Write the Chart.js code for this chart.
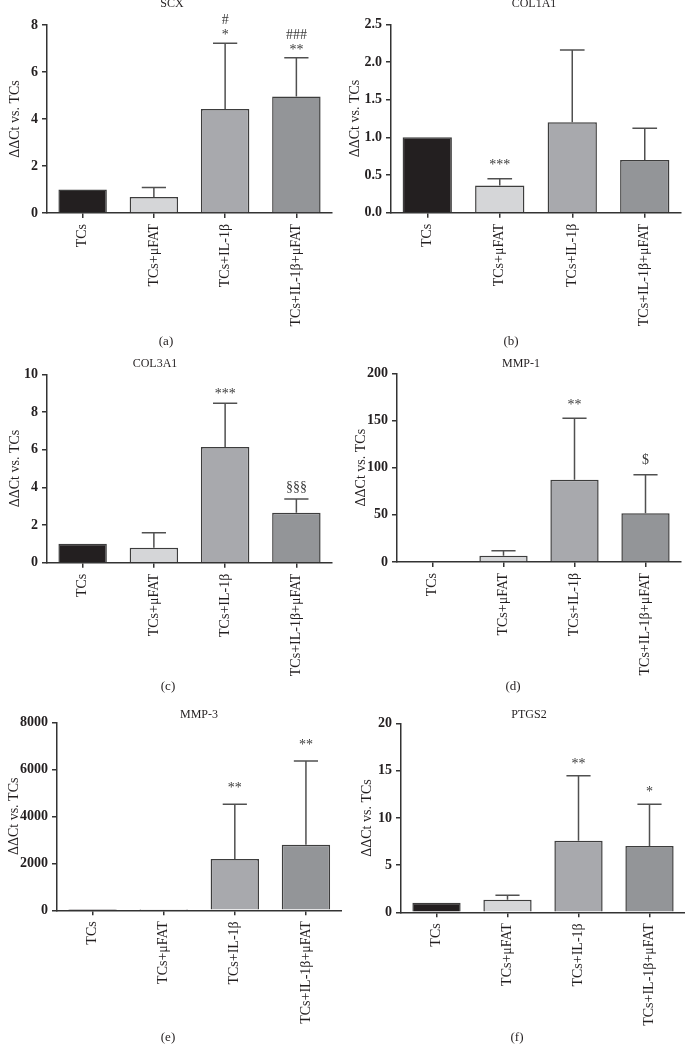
<!DOCTYPE html>
<html>
<head>
<meta charset="utf-8">
<script src="https://cdn.jsdelivr.net/npm/chart.js@4.4.1/dist/chart.umd.min.js"></script>
<style>
  body { margin: 0; background: #fff; }
  #wrap { position: relative; width: 685px; height: 1056px; overflow: hidden; }
  .panel { position: absolute; }
</style>
</head>
<body>
<div id="wrap"></div>
<script>
// groups on the x axis (same for every panel)
const groups = ['TCs', 'TCs+μFAT', 'TCs+IL-1β', 'TCs+IL-1β+μFAT'];

// mean values and upper SD
const scxMean = [1, 0.68, 4.43, 4.96];
const scxSd = [0, 0.41, 2.79, 1.65];
const col1Mean = [1, 0.36, 1.20, 0.70];
const col1Sd = [0, 0.09, 0.96, 0.42];
const col3Mean = [1, 0.80, 6.14, 2.65];
const col3Sd = [0, 0.79, 2.32, 0.73];
const mmp1Mean = [1, 6.7, 87.3, 51.6];
const mmp1Sd = [0, 5.3, 65, 41];
const mmp3Mean = [1, 1.5, 2184, 2794];
const mmp3Sd = [0, 0, 2327, 3561];
const ptgsMean = [1, 1.34, 7.6, 7.03];
const ptgsSd = [0, 0.46, 6.89, 4.42];

// y axis ticks
const scxTicks = [0, 2, 4, 6, 8];
const col1Ticks = [0, 0.5, 1, 1.5, 2, 2.5];
const col3Ticks = [0, 2, 4, 6, 8, 10];
const mmp1Ticks = [0, 50, 100, 150, 200];
const mmp3Ticks = [0, 2000, 4000, 6000, 8000];
const ptgsTicks = [0, 5, 10, 15, 20];

// significance marks above each bar (listed bottom to top)
const scxMarks = [[], [], ['*', '#'], ['**', '###']];
const col1Marks = [[], ['***'], [], []];
const col3Marks = [[], [], ['***'], ['§§§']];
const mmp1Marks = [[], [], ['**'], ['$']];
const mmp3Marks = [[], [], ['**'], ['**']];
const ptgsMarks = [[], [], ['**'], ['*']];

const barColors = ['#231f20', '#d5d6d8', '#a8a9ad', '#939598'];
const ink = '#231f20';
const serif = "'Liberation Serif', 'DejaVu Serif', serif";

// box = panel position on page, area = plot area inside the panel
const panels = [
  { name: 'SCX', tag: '(a)', mean: scxMean, sd: scxSd, ticks: scxTicks, marks: scxMarks, dec: 0,
    box: [0, 0, 342, 350], area: [47, 25, 332, 213], titleX: 172, titleY: 4, tagX: 166, tagY: 342, yTitleX: 15, gap: 11 },
  { name: 'COL1A1', tag: '(b)', mean: col1Mean, sd: col1Sd, ticks: col1Ticks, marks: col1Marks, dec: 1,
    box: [342, 0, 343, 350], area: [49, 24.3, 339, 212.7], titleX: 192, titleY: 4, tagX: 169, tagY: 342, yTitleX: 13, gap: 17 },
  { name: 'COL3A1', tag: '(c)', mean: col3Mean, sd: col3Sd, ticks: col3Ticks, marks: col3Marks, dec: 0,
    box: [0, 350, 342, 350], area: [47, 24.3, 332, 212.7], titleX: 155, titleY: 14, tagX: 168, tagY: 337, yTitleX: 15, gap: 12 },
  { name: 'MMP-1', tag: '(d)', mean: mmp1Mean, sd: mmp1Sd, ticks: mmp1Ticks, marks: mmp1Marks, dec: 0,
    box: [342, 350, 343, 350], area: [55, 23.3, 339, 212], titleX: 179, titleY: 14, tagX: 171, tagY: 337, yTitleX: 19, gap: 16 },
  { name: 'MMP-3', tag: '(e)', mean: mmp3Mean, sd: mmp3Sd, ticks: mmp3Ticks, marks: mmp3Marks, dec: 0,
    box: [0, 700, 342, 356], area: [57, 22.3, 341.5, 210.3], titleX: 199, titleY: 15, tagX: 168, tagY: 338, yTitleX: 14, gap: 19 },
  { name: 'PTGS2', tag: '(f)', mean: ptgsMean, sd: ptgsSd, ticks: ptgsTicks, marks: ptgsMarks, dec: 0,
    box: [342, 700, 343, 356], area: [59, 23.7, 343, 212.3], titleX: 187, titleY: 15, tagX: 175, tagY: 338, yTitleX: 25, gap: 15 }
];

function drawCentered(ctx, text, x, cy) {
  // put the visible glyph box centred on cy
  const m = ctx.measureText(text);
  const base = cy + (m.actualBoundingBoxAscent - m.actualBoundingBoxDescent) / 2;
  ctx.fillText(text, x, base);
}

function makeChart(p) {
  const wrap = document.getElementById('wrap');
  const div = document.createElement('div');
  div.className = 'panel';
  div.style.left = p.box[0] + 'px';
  div.style.top = p.box[1] + 'px';
  const canvas = document.createElement('canvas');
  canvas.width = p.box[2];
  canvas.height = p.box[3];
  div.appendChild(canvas);
  wrap.appendChild(div);

  const [aL, aT, aR, aB] = p.area;
  const W = p.box[2], H = p.box[3];

  const extras = {
    id: 'extras',
    afterDatasetsDraw(chart) {
      const ctx = chart.ctx;
      const meta = chart.getDatasetMeta(0);
      const ys = chart.scales.y;
      ctx.save();
      ctx.strokeStyle = '#505050';
      ctx.lineWidth = 1.5;
      meta.data.forEach((bar, i) => {
        if (!p.sd[i]) return;
        const top = ys.getPixelForValue(p.mean[i] + p.sd[i]);
        const half = bar.width / 4;
        ctx.beginPath();
        ctx.moveTo(bar.x, bar.y);
        ctx.lineTo(bar.x, top);
        ctx.moveTo(bar.x - half, top);
        ctx.lineTo(bar.x + half, top);
        ctx.stroke();
      });
      // significance marks
      ctx.fillStyle = '#3a3a3a';
      ctx.textAlign = 'center';
      ctx.textBaseline = 'alphabetic';
      ctx.font = '14px ' + serif;
      meta.data.forEach((bar, i) => {
        let cy = ys.getPixelForValue(p.mean[i] + p.sd[i]) - p.gap;
        p.marks[i].forEach(m => {
          drawCentered(ctx, m, bar.x, cy);
          cy -= 13;
        });
      });
      ctx.restore();
    },
    afterDraw(chart) {
      const ctx = chart.ctx;
      ctx.save();
      ctx.fillStyle = ink;
      ctx.textAlign = 'center';
      ctx.textBaseline = 'middle';
      ctx.font = '12px ' + serif;
      ctx.fillText(p.name, p.titleX, p.titleY);
      ctx.font = '13px ' + serif;
      ctx.fillText(p.tag, p.tagX, p.tagY);
      ctx.restore();
    }
  };

  new Chart(canvas, {
    type: 'bar',
    data: {
      labels: groups,
      datasets: [{
        data: p.mean,
        backgroundColor: barColors,
        borderColor: '#3d3d3d',
        borderWidth: 1.5,
        barPercentage: 0.68,
        categoryPercentage: 1
      }]
    },
    options: {
      responsive: false,
      animation: false,
      layout: { padding: { left: 0, top: aT, right: W - aR, bottom: 0 } },
      plugins: { legend: { display: false }, tooltip: { enabled: false } },
      scales: {
        x: {
          afterFit: s => { s.height = H - aB; },
          grid: { offset: false, drawOnChartArea: false, tickLength: 5, color: '#333', lineWidth: 1.5 },
          border: { color: '#333', width: 1.5 },
          ticks: {
            autoSkip: false, minRotation: 90, maxRotation: 90, padding: 6,
            color: ink, font: { family: serif, size: 14 }
          }
        },
        y: {
          min: 0,
          max: p.ticks[p.ticks.length - 1],
          afterBuildTicks: s => { s.ticks = p.ticks.map(v => ({ value: v })); },
          afterFit: s => { s.width = aL; },
          grid: { drawOnChartArea: false, tickLength: 5, color: '#333', lineWidth: 1.5 },
          border: { color: '#333', width: 1.5 },
          ticks: {
            padding: 4, color: ink,
            font: { family: serif, size: 14, weight: 'bold' },
            callback: v => Number(v).toFixed(p.dec)
          },
          title: {
            display: true, text: 'ΔΔCt vs. TCs', color: ink,
            font: { family: serif, size: 14 },
            padding: { top: p.yTitleX - 8.4, bottom: 0 }
          }
        }
      }
    },
    plugins: [extras]
  });
}

panels.forEach(makeChart);
</script>
</body>
</html>
